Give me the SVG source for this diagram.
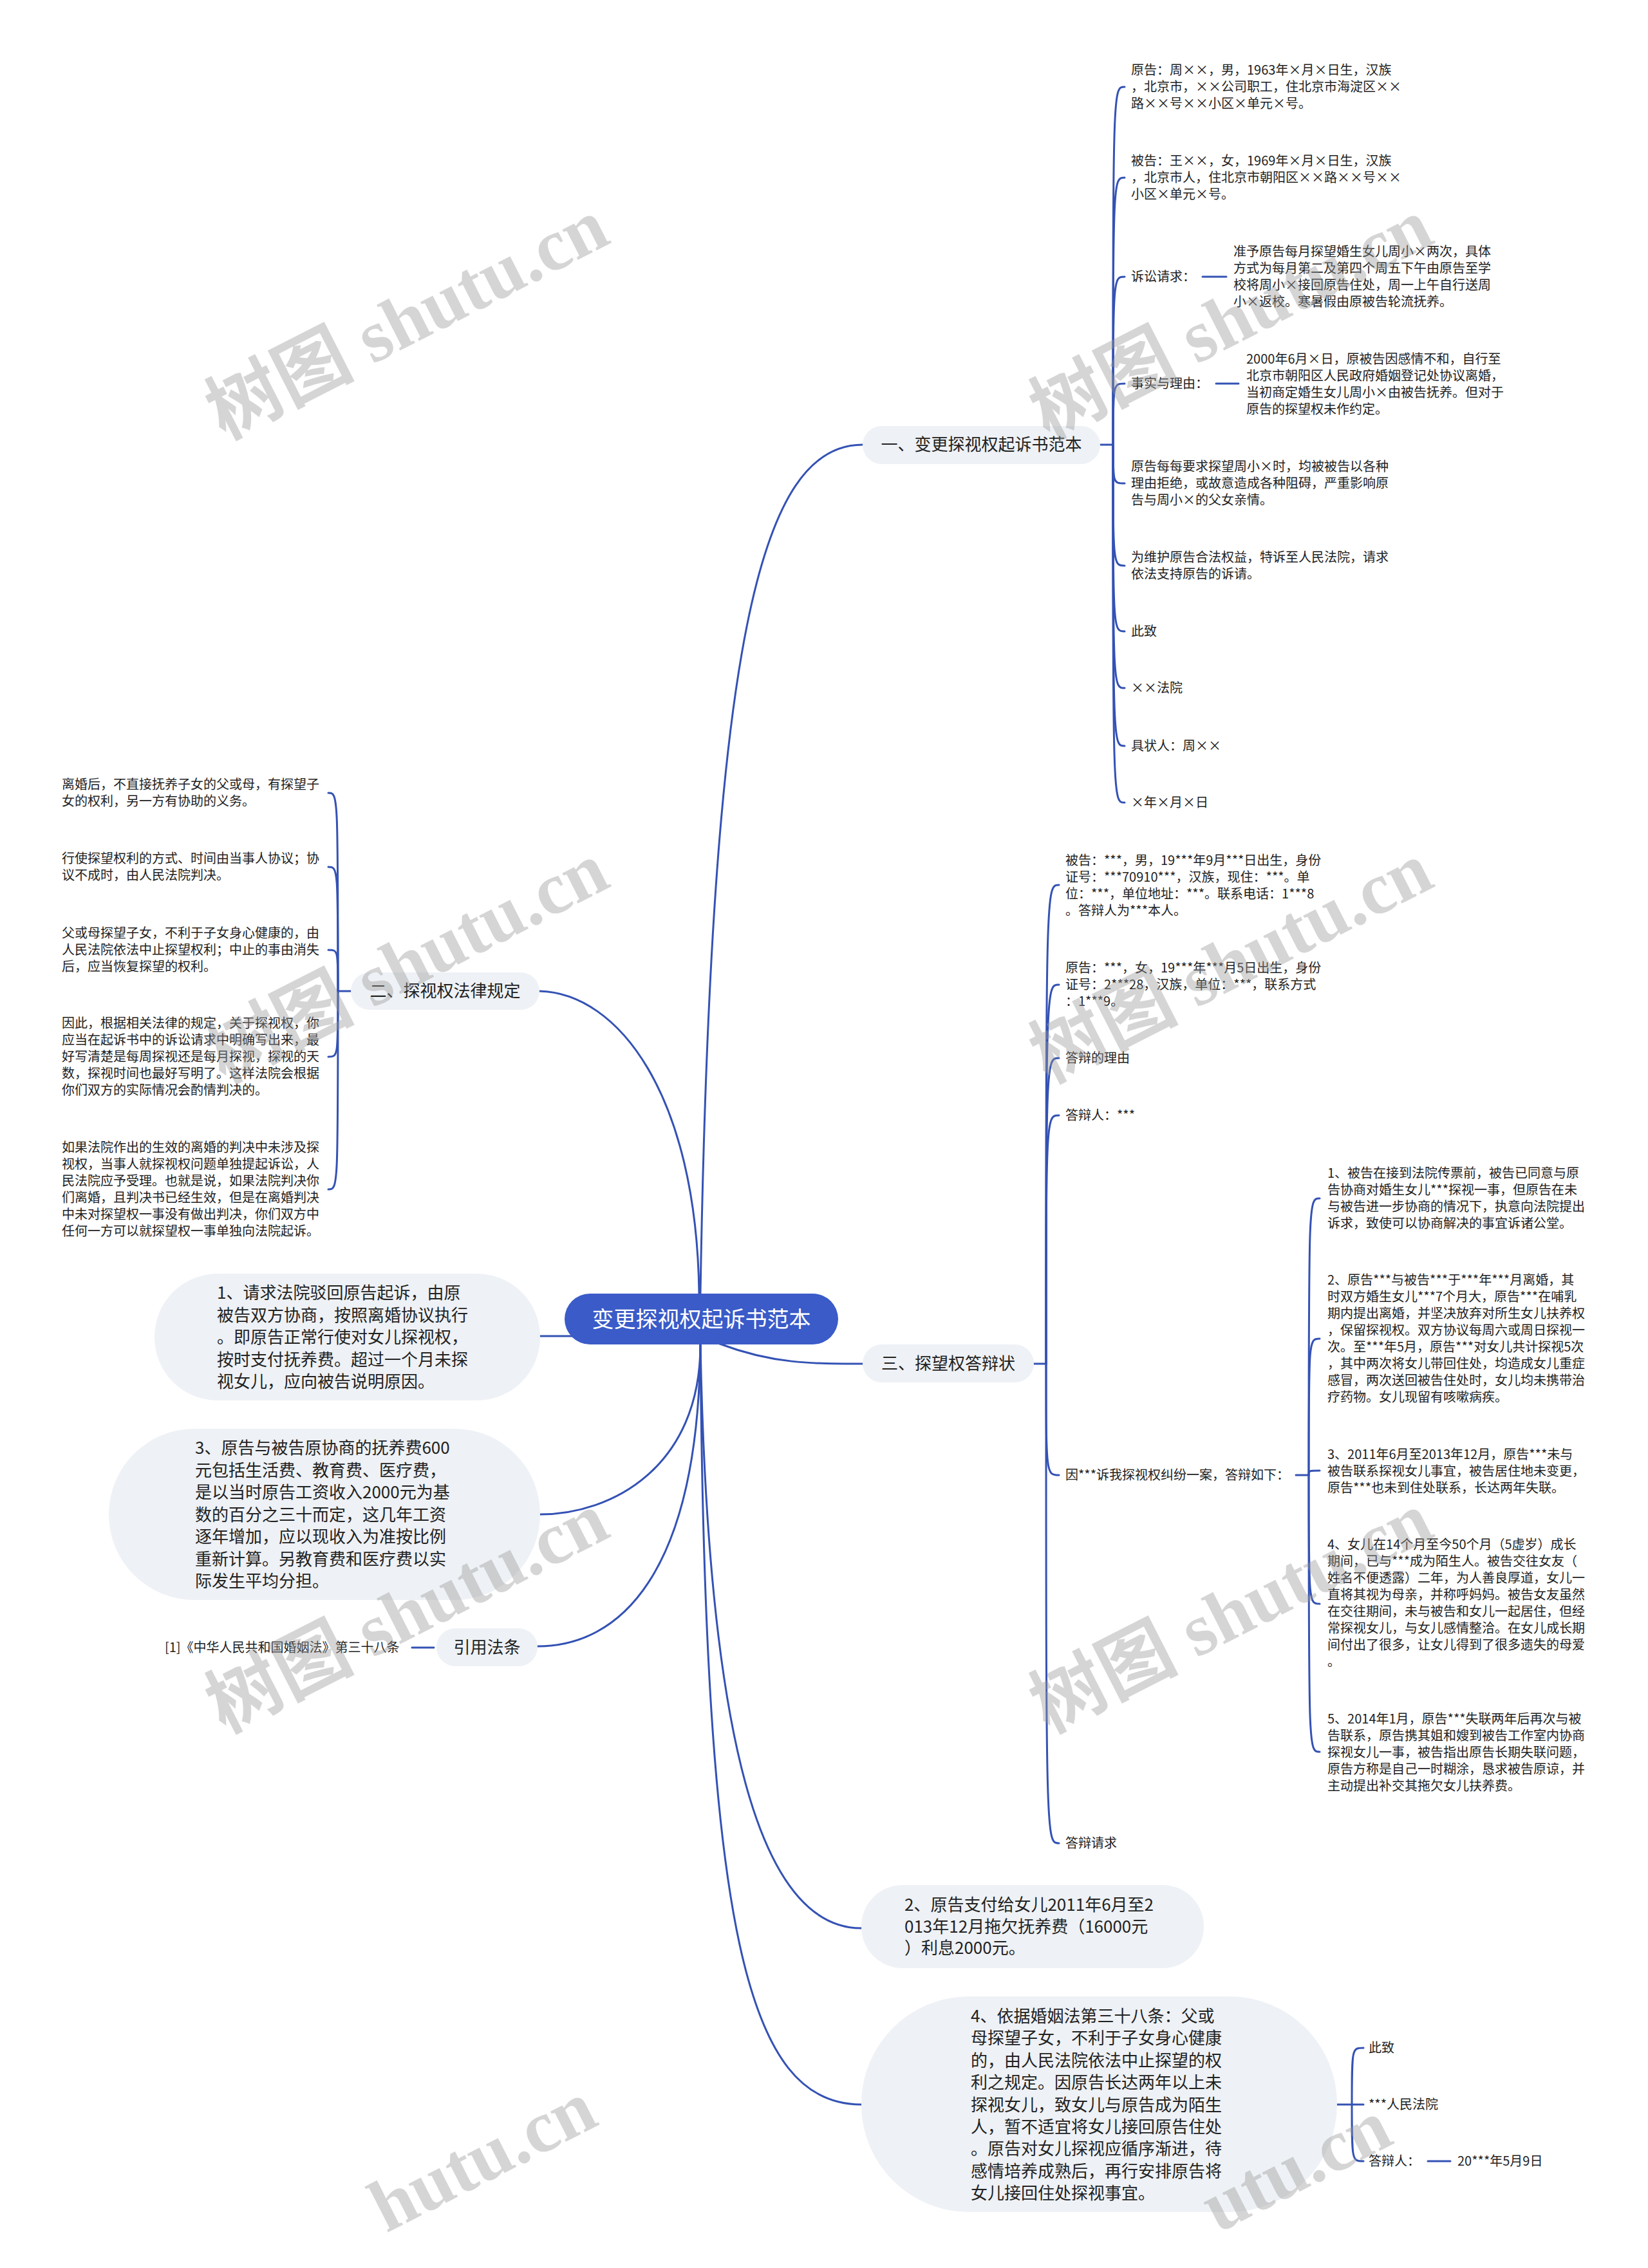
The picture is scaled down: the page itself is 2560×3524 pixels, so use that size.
<svg xmlns="http://www.w3.org/2000/svg" width="2560" height="3524" viewBox="0 0 2560 3524">
<style>
.l{fill:none;stroke:#3452b4;stroke-width:3;stroke-linecap:round}
.t{font-family:"Noto Sans CJK SC","Noto Sans",sans-serif;font-size:20px;fill:#222}
.m{font-size:26px}
.c{text-anchor:middle}
.box{fill:#eef1f5}
.root{fill:#3a5bc8}
.rt{font-family:"Noto Sans CJK SC","Noto Sans",sans-serif;font-size:34px;fill:#fff;text-anchor:middle}
.wm{font-family:"Liberation Serif","Noto Sans CJK SC",serif;font-size:115px;font-weight:bold;fill:#999;opacity:0.4;text-anchor:middle}
.ws{text-anchor:start}
</style>
<rect width="2560" height="3524" fill="#fff"/>
<g id="connectors">
<path class="l" d="M1088 2010 C1105 1000 1180 691 1340 691"/>
<path class="l" d="M838 1540 C960 1543 1082 1700 1086 2010"/>
<path class="l" d="M1118 2088 C1200 2119 1260 2119 1340 2119"/>
<path class="l" d="M1088 2089 C1100 2700 1180 2996 1338 2996"/>
<path class="l" d="M1088 2089 C1095 3000 1160 3270 1338 3270"/>
<path class="l" d="M839 2076 L890 2076"/>
<path class="l" d="M839 2353 C950 2353 1088 2280 1088 2089"/>
<path class="l" d="M835 2558 C960 2558 1085 2450 1088 2089"/>
<path class="l" d="M1709 691 L1729 691"/>
<path class="l" d="M1729 691 C1729 135 1729 135 1747 135"/>
<path class="l" d="M1729 691 C1729 276 1729 276 1747 276"/>
<path class="l" d="M1729 691 C1729 430 1729 430 1747 430"/>
<path class="l" d="M1729 691 C1729 596 1729 596 1747 596"/>
<path class="l" d="M1729 691 C1729 751 1729 751 1747 751"/>
<path class="l" d="M1729 691 C1729 879 1729 879 1747 879"/>
<path class="l" d="M1729 691 C1729 981 1729 981 1747 981"/>
<path class="l" d="M1729 691 C1729 1069 1729 1069 1747 1069"/>
<path class="l" d="M1729 691 C1729 1159 1729 1159 1747 1159"/>
<path class="l" d="M1729 691 C1729 1247 1729 1247 1747 1247"/>
<path class="l" d="M1868 430 L1905 430"/>
<path class="l" d="M1889 596 L1924 596"/>
<path class="l" d="M545 1540 L525 1540"/>
<path class="l" d="M525 1540 C525 1232 525 1232 510 1232"/>
<path class="l" d="M525 1540 C525 1347 525 1347 510 1347"/>
<path class="l" d="M525 1540 C525 1476 525 1476 510 1476"/>
<path class="l" d="M525 1540 C525 1642 525 1642 510 1642"/>
<path class="l" d="M525 1540 C525 1848 525 1848 510 1848"/>
<path class="l" d="M1606 2119 L1625 2119"/>
<path class="l" d="M1625 2119 C1625 1375 1625 1375 1645 1375"/>
<path class="l" d="M1625 2119 C1625 1530 1625 1530 1645 1530"/>
<path class="l" d="M1625 2119 C1625 1644 1625 1644 1645 1644"/>
<path class="l" d="M1625 2119 C1625 1733 1625 1733 1645 1733"/>
<path class="l" d="M1625 2119 C1625 2292 1625 2292 1645 2292"/>
<path class="l" d="M1625 2119 C1625 2864 1625 2864 1645 2864"/>
<path class="l" d="M2013 2292 L2033 2292"/>
<path class="l" d="M2033 2292 C2033 1862 2033 1862 2050 1862"/>
<path class="l" d="M2033 2292 C2033 2080 2033 2080 2050 2080"/>
<path class="l" d="M2033 2292 C2033 2285 2033 2285 2050 2285"/>
<path class="l" d="M2033 2292 C2033 2492 2033 2492 2050 2492"/>
<path class="l" d="M2033 2292 C2033 2722 2033 2722 2050 2722"/>
<path class="l" d="M2077 3270 L2100 3270"/>
<path class="l" d="M2100 3270 C2100 3182 2100 3182 2118 3182"/>
<path class="l" d="M2100 3270 L2118 3270"/>
<path class="l" d="M2100 3270 C2100 3358 2100 3358 2118 3358"/>
<path class="l" d="M2218 3358 L2253 3358"/>
<path class="l" d="M640 2560 L674 2560"/>
</g>
<g id="root"><rect class="root" x="877" y="2010" width="425" height="79" rx="39.5"/><text class="rt" x="1089.5" y="2062">变更探视权起诉书范本</text></g>
<g id="n1"><rect class="box" x="1340" y="662" width="369" height="59" rx="29.5"/><text class="t m c" x="1524.5" y="700">一、变更探视权起诉书范本</text></g>
<g id="n1a"><text class="t" x="1757" y="116"><tspan x="1757">原告：周××，男，1963年×月×日生，汉族</tspan><tspan x="1757" dy="26">，北京市，××公司职工，住北京市海淀区××</tspan><tspan x="1757" dy="26">路××号××小区×单元×号。</tspan></text></g>
<g id="n1b"><text class="t" x="1757" y="257"><tspan x="1757">被告：王××，女，1969年×月×日生，汉族</tspan><tspan x="1757" dy="26">，北京市人，住北京市朝阳区××路××号××</tspan><tspan x="1757" dy="26">小区×单元×号。</tspan></text></g>
<g id="n1c"><text class="t" x="1757" y="437">诉讼请求：</text></g>
<g id="n1c1"><text class="t" x="1916" y="398"><tspan x="1916">准予原告每月探望婚生女儿周小×两次，具体</tspan><tspan x="1916" dy="26">方式为每月第二及第四个周五下午由原告至学</tspan><tspan x="1916" dy="26">校将周小×接回原告住处，周一上午自行送周</tspan><tspan x="1916" dy="26">小×返校。寒暑假由原被告轮流抚养。</tspan></text></g>
<g id="n1d"><text class="t" x="1757" y="603">事实与理由：</text></g>
<g id="n1d1"><text class="t" x="1936" y="565"><tspan x="1936">2000年6月×日，原被告因感情不和，自行至</tspan><tspan x="1936" dy="26">北京市朝阳区人民政府婚姻登记处协议离婚，</tspan><tspan x="1936" dy="26">当初商定婚生女儿周小×由被告抚养。但对于</tspan><tspan x="1936" dy="26">原告的探望权未作约定。</tspan></text></g>
<g id="n1e"><text class="t" x="1757" y="732"><tspan x="1757">原告每每要求探望周小×时，均被被告以各种</tspan><tspan x="1757" dy="26">理由拒绝，或故意造成各种阻碍，严重影响原</tspan><tspan x="1757" dy="26">告与周小×的父女亲情。</tspan></text></g>
<g id="n1f"><text class="t" x="1757" y="873"><tspan x="1757">为维护原告合法权益，特诉至人民法院，请求</tspan><tspan x="1757" dy="26">依法支持原告的诉请。</tspan></text></g>
<g id="n1g"><text class="t" x="1757" y="988">此致</text></g>
<g id="n1h"><text class="t" x="1757" y="1076">××法院</text></g>
<g id="n1i"><text class="t" x="1757" y="1166">具状人：周××</text></g>
<g id="n1j"><text class="t" x="1757" y="1254">×年×月×日</text></g>
<g id="n2"><rect class="box" x="545" y="1511" width="293" height="58" rx="29"/><text class="t m c" x="691.5" y="1549">二、探视权法律规定</text></g>
<g id="n2a"><text class="t" x="96" y="1226"><tspan x="96">离婚后，不直接抚养子女的父或母，有探望子</tspan><tspan x="96" dy="26">女的权利，另一方有协助的义务。</tspan></text></g>
<g id="n2b"><text class="t" x="96" y="1341"><tspan x="96">行使探望权利的方式、时间由当事人协议；协</tspan><tspan x="96" dy="26">议不成时，由人民法院判决。</tspan></text></g>
<g id="n2c"><text class="t" x="96" y="1457"><tspan x="96">父或母探望子女，不利于子女身心健康的，由</tspan><tspan x="96" dy="26">人民法院依法中止探望权利；中止的事由消失</tspan><tspan x="96" dy="26">后，应当恢复探望的权利。</tspan></text></g>
<g id="n2d"><text class="t" x="96" y="1597"><tspan x="96">因此，根据相关法律的规定，关于探视权，你</tspan><tspan x="96" dy="26">应当在起诉书中的诉讼请求中明确写出来，最</tspan><tspan x="96" dy="26">好写清楚是每周探视还是每月探视，探视的天</tspan><tspan x="96" dy="26">数，探视时间也最好写明了。这样法院会根据</tspan><tspan x="96" dy="26">你们双方的实际情况会酌情判决的。</tspan></text></g>
<g id="n2e"><text class="t" x="96" y="1790"><tspan x="96">如果法院作出的生效的离婚的判决中未涉及探</tspan><tspan x="96" dy="26">视权，当事人就探视权问题单独提起诉讼，人</tspan><tspan x="96" dy="26">民法院应予受理。也就是说，如果法院判决你</tspan><tspan x="96" dy="26">们离婚，且判决书已经生效，但是在离婚判决</tspan><tspan x="96" dy="26">中未对探望权一事没有做出判决，你们双方中</tspan><tspan x="96" dy="26">任何一方可以就探望权一事单独向法院起诉。</tspan></text></g>
<g id="n3"><rect class="box" x="1340" y="2089" width="266" height="59" rx="29.5"/><text class="t m c" x="1473" y="2128">三、探望权答辩状</text></g>
<g id="n3a"><text class="t" x="1655" y="1344"><tspan x="1655">被告：***，男，19***年9月***日出生，身份</tspan><tspan x="1655" dy="26">证号：***70910***，汉族，现住：***。单</tspan><tspan x="1655" dy="26">位：***，单位地址：***。联系电话：1***8</tspan><tspan x="1655" dy="26">。答辩人为***本人。</tspan></text></g>
<g id="n3b"><text class="t" x="1655" y="1511"><tspan x="1655">原告：***，女，19***年***月5日出生，身份</tspan><tspan x="1655" dy="26">证号：2***28，汉族，单位：***，联系方式</tspan><tspan x="1655" dy="26">：1***9。</tspan></text></g>
<g id="n3c"><text class="t" x="1655" y="1651">答辩的理由</text></g>
<g id="n3d"><text class="t" x="1655" y="1740">答辩人：***</text></g>
<g id="n3e"><text class="t" x="1655" y="2299">因***诉我探视权纠纷一案，答辩如下：</text></g>
<g id="n3e1"><text class="t" x="2062" y="1830"><tspan x="2062">1、被告在接到法院传票前，被告已同意与原</tspan><tspan x="2062" dy="26">告协商对婚生女儿***探视一事，但原告在未</tspan><tspan x="2062" dy="26">与被告进一步协商的情况下，执意向法院提出</tspan><tspan x="2062" dy="26">诉求，致使可以协商解决的事宜诉诸公堂。</tspan></text></g>
<g id="n3e2"><text class="t" x="2062" y="1996"><tspan x="2062">2、原告***与被告***于***年***月离婚，其</tspan><tspan x="2062" dy="26">时双方婚生女儿***7个月大，原告***在哺乳</tspan><tspan x="2062" dy="26">期内提出离婚，并坚决放弃对所生女儿扶养权</tspan><tspan x="2062" dy="26">，保留探视权。双方协议每周六或周日探视一</tspan><tspan x="2062" dy="26">次。至***年5月，原告***对女儿共计探视5次</tspan><tspan x="2062" dy="26">，其中两次将女儿带回住处，均造成女儿重症</tspan><tspan x="2062" dy="26">感冒，两次送回被告住处时，女儿均未携带治</tspan><tspan x="2062" dy="26">疗药物。女儿现留有咳嗽病疾。</tspan></text></g>
<g id="n3e3"><text class="t" x="2062" y="2267"><tspan x="2062">3、2011年6月至2013年12月，原告***未与</tspan><tspan x="2062" dy="26">被告联系探视女儿事宜，被告居住地未变更，</tspan><tspan x="2062" dy="26">原告***也未到住处联系，长达两年失联。</tspan></text></g>
<g id="n3e4"><text class="t" x="2062" y="2407"><tspan x="2062">4、女儿在14个月至今50个月（5虚岁）成长</tspan><tspan x="2062" dy="26">期间，已与***成为陌生人。被告交往女友（</tspan><tspan x="2062" dy="26">姓名不便透露）二年，为人善良厚道，女儿一</tspan><tspan x="2062" dy="26">直将其视为母亲，并称呼妈妈。被告女友虽然</tspan><tspan x="2062" dy="26">在交往期间，未与被告和女儿一起居住，但经</tspan><tspan x="2062" dy="26">常探视女儿，与女儿感情整洽。在女儿成长期</tspan><tspan x="2062" dy="26">间付出了很多，让女儿得到了很多遗失的母爱</tspan><tspan x="2062" dy="26">。</tspan></text></g>
<g id="n3e5"><text class="t" x="2062" y="2678"><tspan x="2062">5、2014年1月，原告***失联两年后再次与被</tspan><tspan x="2062" dy="26">告联系，原告携其姐和嫂到被告工作室内协商</tspan><tspan x="2062" dy="26">探视女儿一事，被告指出原告长期失联问题，</tspan><tspan x="2062" dy="26">原告方称是自己一时糊涂，恳求被告原谅，并</tspan><tspan x="2062" dy="26">主动提出补交其拖欠女儿扶养费。</tspan></text></g>
<g id="n3f"><text class="t" x="1655" y="2871">答辩请求</text></g>
<g id="b1"><rect class="box" x="240" y="1979" width="599" height="197" rx="98"/><text class="t m" x="337" y="2018"><tspan x="337">1、请求法院驳回原告起诉，由原</tspan><tspan x="337" dy="34.5">被告双方协商，按照离婚协议执行</tspan><tspan x="337" dy="34.5">。即原告正常行使对女儿探视权，</tspan><tspan x="337" dy="34.5">按时支付抚养费。超过一个月未探</tspan><tspan x="337" dy="34.5">视女儿，应向被告说明原因。</tspan></text></g>
<g id="b3"><rect class="box" x="169" y="2220" width="670" height="266" rx="133"/><text class="t m" x="303" y="2259"><tspan x="303">3、原告与被告原协商的抚养费600</tspan><tspan x="303" dy="34.5">元包括生活费、教育费、医疗费，</tspan><tspan x="303" dy="34.5">是以当时原告工资收入2000元为基</tspan><tspan x="303" dy="34.5">数的百分之三十而定，这几年工资</tspan><tspan x="303" dy="34.5">逐年增加，应以现收入为准按比例</tspan><tspan x="303" dy="34.5">重新计算。另教育费和医疗费以实</tspan><tspan x="303" dy="34.5">际发生平均分担。</tspan></text></g>
<g id="cite"><rect class="box" x="678" y="2530" width="157" height="59" rx="29.5"/><text class="t m c" x="756.5" y="2569">引用法条</text></g>
<g id="cite1"><text class="t" x="256" y="2567">[1]《中华人民共和国婚姻法》第三十八条</text></g>
<g id="b2"><rect class="box" x="1338" y="2929" width="532" height="129" rx="64"/><text class="t m" x="1405" y="2969"><tspan x="1405">2、原告支付给女儿2011年6月至2</tspan><tspan x="1405" dy="33.5">013年12月拖欠抚养费（16000元</tspan><tspan x="1405" dy="33.5">）利息2000元。</tspan></text></g>
<g id="b4"><rect class="box" x="1338" y="3102" width="739" height="335" rx="167"/><text class="t m" x="1508" y="3142"><tspan x="1508">4、依据婚姻法第三十八条：父或</tspan><tspan x="1508" dy="34.4">母探望子女，不利于子女身心健康</tspan><tspan x="1508" dy="34.4">的，由人民法院依法中止探望的权</tspan><tspan x="1508" dy="34.4">利之规定。因原告长达两年以上未</tspan><tspan x="1508" dy="34.4">探视女儿，致女儿与原告成为陌生</tspan><tspan x="1508" dy="34.4">人，暂不适宜将女儿接回原告住处</tspan><tspan x="1508" dy="34.4">。原告对女儿探视应循序渐进，待</tspan><tspan x="1508" dy="34.4">感情培养成熟后，再行安排原告将</tspan><tspan x="1508" dy="34.4">女儿接回住处探视事宜。</tspan></text></g>
<g id="b4a"><text class="t" x="2126" y="3189">此致</text></g>
<g id="b4b"><text class="t" x="2126" y="3277">***人民法院</text></g>
<g id="b4c"><text class="t" x="2126" y="3365">答辩人：</text></g>
<g id="b4c1"><text class="t" x="2264" y="3365">20***年5月9日</text></g>
<g id="watermarks">
<text class="wm" transform="translate(650 530) rotate(-27)">树图 shutu.cn</text>
<text class="wm" transform="translate(1930 530) rotate(-27)">树图 shutu.cn</text>
<text class="wm" transform="translate(650 1530) rotate(-27)">树图 shutu.cn</text>
<text class="wm" transform="translate(1930 1530) rotate(-27)">树图 shutu.cn</text>
<text class="wm" transform="translate(650 2540) rotate(-27)">树图 shutu.cn</text>
<text class="wm" transform="translate(1930 2540) rotate(-27)">树图 shutu.cn</text>
<text class="wm ws" transform="translate(600 3470) rotate(-27)">hutu.cn</text>
<text class="wm ws" transform="translate(1892 3470) rotate(-27)">utu.cn</text>
</g>
</svg>
